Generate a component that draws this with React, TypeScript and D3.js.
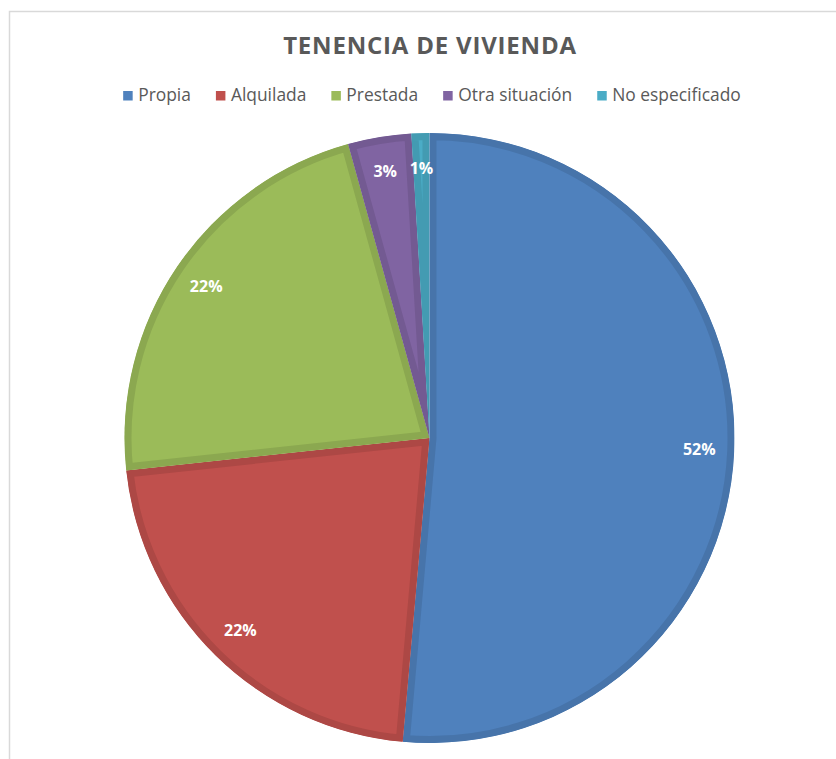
import React, { useEffect, useRef } from "react";
import * as d3 from "d3";

// Data
const categories = ["Propia", "Alquilada", "Prestada", "Otra situación", "No especificado"];
const values = [51.4, 21.9, 22.4, 3.35, 0.95];
const labels = ["52%", "22%", "22%", "3%", "1%"];
const colors = ["#4F81BD", "#C0504D", "#9BBB59", "#8064A2", "#4BACC6"];
const title = "TENENCIA DE VIVIENDA";

const W = 836;
const H = 759;

const App: React.FC = () => {
  const svgRef = useRef<SVGSVGElement | null>(null);

  useEffect(() => {
    if (!svgRef.current) return;
    const svg = d3.select(svgRef.current);
    svg.selectAll("*").remove();

    const font = "'Open Sans', 'Noto Sans', sans-serif";

    // chart area border
    svg
      .append("rect")
      .attr("x", 9.5)
      .attr("y", 11.5)
      .attr("width", W + 20)
      .attr("height", H + 20)
      .attr("fill", "#fff")
      .attr("stroke", "#d9d9d9")
      .attr("stroke-width", 1.5);

    // title
    svg
      .append("text")
      .attr("x", 430)
      .attr("y", 54)
      .attr("text-anchor", "middle")
      .attr("font-family", font)
      .attr("font-weight", "bold")
      .attr("font-size", 24)
      .attr("letter-spacing", 0.8)
      .attr("fill", "#595959")
      .text(title);

    // legend, laid out from measured text widths
    const legend = svg.append("g");
    const items = categories.map((c, i) => {
      const g = legend.append("g");
      g.append("rect")
        .attr("width", 9.5)
        .attr("height", 9.5)
        .attr("y", -10)
        .attr("fill", colors[i]);
      const t = g
        .append("text")
        .attr("x", 15)
        .attr("y", 0)
        .attr("font-family", font)
        .attr("font-size", 17.4)
        .attr("fill", "#595959")
        .text(c);
      const w = (t.node() as SVGTextElement).getComputedTextLength();
      return { g, w: 15 + w };
    });
    const gap = 25;
    const total = d3.sum(items, (d) => d.w) + gap * (items.length - 1);
    let x = 432 - total / 2;
    items.forEach((it) => {
      it.g.attr("transform", `translate(${x},101)`);
      x += it.w + gap;
    });

    // pie
    const cx = 429.5;
    const cy = 438;
    const r = 305;
    const pie = d3
      .pie<number>()
      .sort(null)
      .value((d) => d);
    const arcs = pie(values);
    const arc = d3.arc<d3.PieArcDatum<number>>().innerRadius(0).outerRadius(r);
    const labelArc = d3
      .arc<d3.PieArcDatum<number>>()
      .innerRadius(270)
      .outerRadius(270);

    const defs = svg.append("defs");
    const pieG = svg.append("g").attr("transform", `translate(${cx},${cy})`);

    arcs.forEach((a, i) => {
      const id = `clip-${i}`;
      defs
        .append("clipPath")
        .attr("id", id)
        .append("path")
        .attr("d", arc(a) as string);
      pieG
        .append("path")
        .attr("d", arc(a) as string)
        .attr("fill", colors[i])
        .attr("stroke", d3.rgb(colors[i]).darker(0.3).formatHex())
        .attr("stroke-width", 14)
        .attr("stroke-linejoin", "miter")
        .attr("clip-path", `url(#${id})`);
    });

    pieG
      .selectAll("text.lbl")
      .data(arcs)
      .enter()
      .append("text")
      .attr("class", "lbl")
      .attr("transform", (d) => `translate(${labelArc.centroid(d)})`)
      .attr("text-anchor", "middle")
      .attr("dy", "0.35em")
      .attr("font-family", font)
      .attr("font-weight", "bold")
      .attr("font-size", 16)
      .attr("fill", "#fff")
      .text((_, i) => labels[i]);
  }, []);

  return (
    <svg
      ref={svgRef}
      width={W}
      height={H}
      style={{ position: "fixed", left: 0, top: 0, background: "#fff" }}
    />
  );
};

export default App;
